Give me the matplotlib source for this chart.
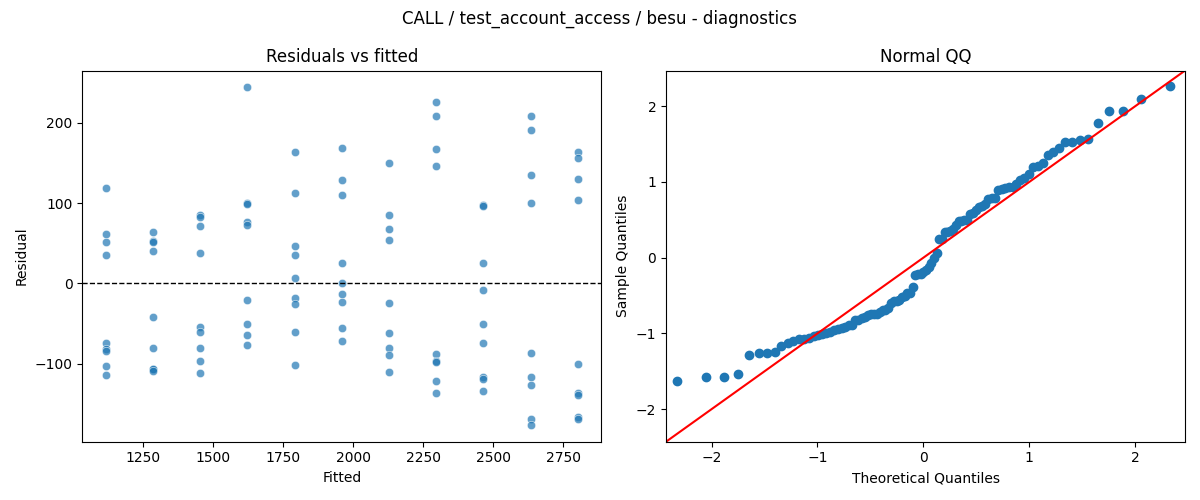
import matplotlib
matplotlib.use("Agg")
import matplotlib.pyplot as plt
import seaborn as sns
import numpy as np
from statistics import NormalDist

# fitted levels, 9 residuals per level
fitted_levels = [1116, 1285, 1453, 1622, 1791, 1959, 2128, 2296, 2465, 2634, 2802]
residual_groups = [
    [119, 62, 52, 36, -74, -81, -84, -103, -114],
    [64, 53, 52, 41, -42, -80, -106, -107, -109],
    [85, 83, 72, 38, -54, -60, -80, -96, -112],
    [244, 100, 99, 76, 73, -21, -51, -64, -77],
    [164, 113, 47, 36, 7, -18, -25, -61, -102],
    [169, 129, 110, 26, 0, -13, -23, -56, -72],
    [150, 85, 68, 54, -24, -62, -80, -89, -110],
    [226, 208, 167, 146, -88, -96, -98, -122, -136],
    [98, 96, 26, -8, -50, -74, -116, -119, -134],
    [208, 191, 135, 100, -86, -116, -126, -169, -176],
    [164, 156, 130, 104, -100, -136, -139, -166, -169],
]

fitted = []
resid = []
for f, grp in zip(fitted_levels, residual_groups):
    for r in grp:
        fitted.append(f)
        resid.append(r)
fitted = np.array(fitted, dtype=float)
resid = np.array(resid, dtype=float)

fig, (ax1, ax2) = plt.subplots(1, 2, figsize=(12, 5), dpi=100)

sns.scatterplot(x=fitted, y=resid, ax=ax1, alpha=0.7)
ax1.axhline(0, color="black", linestyle="--", linewidth=1)
ax1.set_title("Residuals vs fitted")
ax1.set_xlabel("Fitted")
ax1.set_ylabel("Residual")

# normal QQ of standardised residuals
n = len(resid)
sample = np.sort((resid - resid.mean()) / resid.std(ddof=1))
nd = NormalDist()
theo = np.array([nd.inv_cdf(i / (n + 1)) for i in range(1, n + 1)])
ax2.plot(theo, sample, marker="o", linestyle="none",
         markerfacecolor="C0", markeredgecolor="C0")
lims = (-2.43, 2.47)
ax2.plot(lims, lims, "r")
ax2.set_xlim(lims)
ax2.set_ylim(lims)
ax2.set_title("Normal QQ")
ax2.set_xlabel("Theoretical Quantiles")
ax2.set_ylabel("Sample Quantiles")

fig.suptitle("CALL / test_account_access / besu - diagnostics")
fig.tight_layout()
fig.savefig("out.png")
